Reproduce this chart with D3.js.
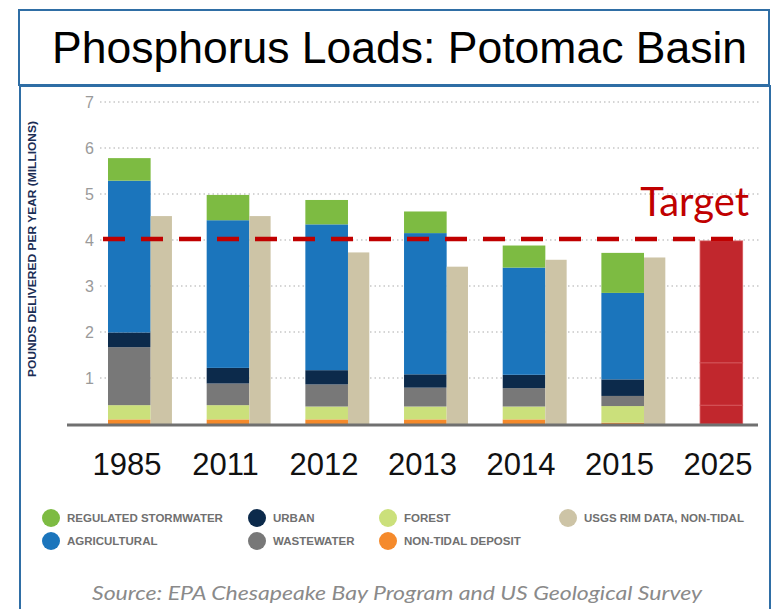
<!DOCTYPE html>
<html>
<head>
<meta charset="utf-8">
<script src="https://cdn.jsdelivr.net/npm/d3@7"></script>
<style>
  body { margin: 0; background: #fff; }
  svg { display: block; }
</style>
</head>
<body>
<svg id="chart" width="773" height="609"></svg>
<script>
// data (millions of pounds per year)
const years = ["1985", "2011", "2012", "2013", "2014", "2015", "2025"];
const sources = ["deposit", "forest", "wastewater", "urban", "agricultural", "stormwater"];
const deposit      = [0.10, 0.10, 0.10, 0.10, 0.10, 0.03];
const forest       = [0.31, 0.31, 0.28, 0.28, 0.28, 0.36];
const wastewater   = [1.26, 0.47, 0.48, 0.41, 0.40, 0.22];
const urban        = [0.32, 0.34, 0.31, 0.29, 0.29, 0.36];
const agricultural = [3.30, 3.21, 3.17, 3.07, 2.33, 1.88];
const stormwater   = [0.49, 0.55, 0.53, 0.47, 0.48, 0.87];
const usgs         = [4.52, 4.52, 3.73, 3.42, 3.57, 3.62];
const targetParts  = [0.41, 0.92, 2.65];
const targetValue = 4.02;
const yTicks = [1, 2, 3, 4, 5, 6, 7];

const colors = {
    stormwater: "#7dbb42",
    agricultural: "#1b75bc",
    urban: "#0c2a4b",
    wastewater: "#787878",
    forest: "#cbe07b",
    deposit: "#f58a2b",
    usgs: "#cdc4a6",
    target: "#c1272d"
};

const legendItems = [
    ["REGULATED STORMWATER", "stormwater"],
    ["AGRICULTURAL", "agricultural"],
    ["URBAN", "urban"],
    ["WASTEWATER", "wastewater"],
    ["FOREST", "forest"],
    ["NON-TIDAL DEPOSIT", "deposit"],
    ["USGS RIM DATA, NON-TIDAL", "usgs"]
];

const svg = d3.select("#chart");

// frames
svg.append("rect")
    .attr("x", 20).attr("y", 86).attr("width", 750).attr("height", 540)
    .attr("fill", "none").attr("stroke", "#2f6ea5").attr("stroke-width", 2);
svg.append("rect")
    .attr("x", 19).attr("y", 10).attr("width", 750).attr("height", 75)
    .attr("fill", "#fff").attr("stroke", "#2f6ea5").attr("stroke-width", 2);
svg.append("text")
    .attr("x", 52).attr("y", 63)
    .attr("font-family", "Liberation Sans, Arial, sans-serif")
    .attr("font-size", 44.5)
    .attr("fill", "#000")
    .text("Phosphorus Loads: Potomac Basin");

const y = d3.scaleLinear().domain([0, 7]).range([424, 102]);
const x = d3.scaleBand().domain(years).range([108, 764]).paddingInner(0.352).paddingOuter(0);
const stackW = x.bandwidth() * 2 / 3;
const labelX = d3.scalePoint().domain(years).range([127, 718]);

// grid
svg.append("g")
    .selectAll("line")
    .data(yTicks)
    .join("line")
    .attr("x1", 100).attr("x2", 760)
    .attr("y1", d => y(d)).attr("y2", d => y(d))
    .attr("stroke", "#c8c8c8")
    .attr("stroke-width", 1.5)
    .attr("stroke-dasharray", "1.5,3");

const yAxis = svg.append("g")
    .attr("transform", "translate(94,0)")
    .call(d3.axisLeft(y).tickValues(yTicks).tickFormat(d3.format("d")).tickSize(0).tickPadding(0));
yAxis.select(".domain").remove();
yAxis.selectAll("text")
    .attr("font-family", "Liberation Sans, Arial, sans-serif")
    .attr("font-size", 16)
    .attr("fill", "#9a9a9a");

svg.append("text")
    .attr("transform", "translate(36,249) rotate(-90)")
    .attr("text-anchor", "middle")
    .attr("font-family", "Liberation Sans, Arial, sans-serif")
    .attr("font-weight", "bold")
    .attr("font-size", 10.5)
    .attr("textLength", 256)
    .attr("lengthAdjust", "spacingAndGlyphs")
    .attr("fill", "#1b2d55")
    .text("POUNDS DELIVERED PER YEAR (MILLIONS)");

// stacked bars
const table = years.slice(0, 6).map((yr, i) => ({
    year: yr,
    deposit: deposit[i], forest: forest[i], wastewater: wastewater[i],
    urban: urban[i], agricultural: agricultural[i], stormwater: stormwater[i]
}));
const series = d3.stack().keys(sources)(table);

svg.append("g")
    .selectAll("g")
    .data(series)
    .join("g")
    .attr("fill", d => colors[d.key])
    .selectAll("rect")
    .data(d => d)
    .join("rect")
    .attr("x", d => x(d.data.year))
    .attr("y", d => y(d[1]))
    .attr("width", stackW)
    .attr("height", d => y(d[0]) - y(d[1]));

// USGS bars
svg.append("g")
    .selectAll("rect")
    .data(usgs)
    .join("rect")
    .attr("x", (d, i) => x(years[i]) + stackW)
    .attr("y", d => y(d))
    .attr("width", x.bandwidth() - stackW)
    .attr("height", d => y(0) - y(d))
    .attr("fill", colors.usgs);

// 2025 target bar
const targetStack = d3.stack().keys(d3.range(targetParts.length))([targetParts]);
svg.append("g")
    .selectAll("rect")
    .data(targetStack)
    .join("rect")
    .attr("x", x("2025"))
    .attr("y", d => y(d[0][1]))
    .attr("width", stackW)
    .attr("height", d => y(d[0][0]) - y(d[0][1]))
    .attr("fill", colors.target)
    .attr("stroke", "#d6575c")
    .attr("stroke-width", 0.8);

// baseline
svg.append("line")
    .attr("x1", 67).attr("x2", 758)
    .attr("y1", y(0) + 1).attr("y2", y(0) + 1)
    .attr("stroke", "#707070").attr("stroke-width", 3);

// target line
svg.append("line")
    .attr("x1", x("1985") - 5).attr("x2", x("2025") + 33)
    .attr("y1", y(targetValue)).attr("y2", y(targetValue))
    .attr("stroke", "#c00000")
    .attr("stroke-width", 4.5)
    .attr("stroke-dasharray", "22,16");

svg.append("text")
    .attr("x", 749).attr("y", 216)
    .attr("text-anchor", "end")
    .attr("font-family", "Lato, sans-serif")
    .attr("font-size", 40)
    .attr("fill", "#c00000")
    .text("Target");

// year labels
svg.append("g")
    .selectAll("text")
    .data(years)
    .join("text")
    .attr("x", d => labelX(d))
    .attr("y", 475)
    .attr("text-anchor", "middle")
    .attr("font-family", "Liberation Sans, Arial, sans-serif")
    .attr("font-size", 31)
    .attr("fill", "#111")
    .text(d => d);

// legend
const legendCols = [51, 257, 388, 568];
const legend = svg.append("g")
    .selectAll("g")
    .data(legendItems)
    .join("g")
    .attr("transform", (d, i) => {
        const col = Math.floor(i / 2);
        const row = i % 2;
        return `translate(${legendCols[col]},${518 + row * 23})`;
    });
legend.append("circle")
    .attr("r", 9)
    .attr("fill", d => colors[d[1]]);
legend.append("text")
    .attr("x", 16)
    .attr("y", 4)
    .attr("font-family", "Liberation Sans, Arial, sans-serif")
    .attr("font-weight", "bold")
    .attr("font-size", 11.5)
    .attr("fill", "#707070")
    .text(d => d[0]);

svg.append("text")
    .attr("x", 397).attr("y", 600)
    .attr("text-anchor", "middle")
    .attr("font-family", "Lato, sans-serif")
    .attr("font-style", "italic")
    .attr("font-size", 20)
    .attr("textLength", 610)
    .attr("lengthAdjust", "spacingAndGlyphs")
    .attr("fill", "#8a8a8a")
    .text("Source: EPA Chesapeake Bay Program and US Geological Survey");
</script>
</body>
</html>
